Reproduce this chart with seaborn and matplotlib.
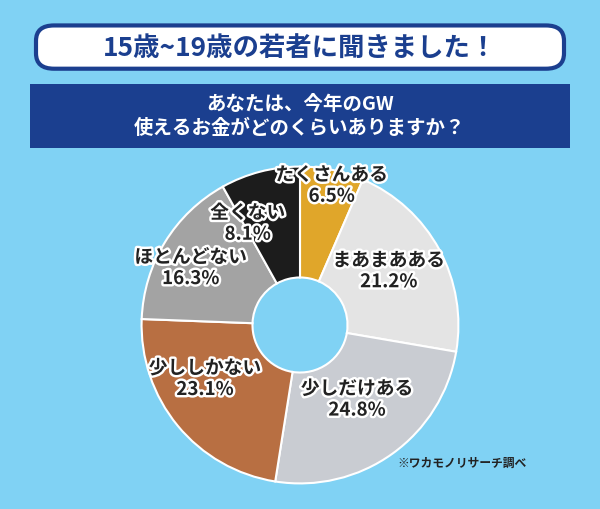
import matplotlib
matplotlib.use("Agg")
import matplotlib.pyplot as plt
import seaborn as sns
import matplotlib.patheffects as pe
from matplotlib.patches import FancyBboxPatch, Rectangle

sns.set_theme(style="white")
plt.rcParams['font.family'] = ['Noto Sans CJK JP', 'DejaVu Sans']

categories = ["たくさんある", "まあまあある", "少しだけある", "少ししかない", "ほとんどない", "全くない"]
values = [6.5, 21.2, 24.8, 23.1, 16.3, 8.1]
colors = ["#e0a62a", "#e4e4e4", "#c9ccd2", "#b86f42", "#a3a3a3", "#1c1c1c"]
title = "15歳~19歳の若者に聞きました！"
question = "あなたは、今年のGW\n使えるお金がどのくらいありますか？"
source = "※ワカモノリサーチ調べ"
label_pos = [(0.2, 0.88), (0.56, 0.34), (0.36, -0.47), (-0.6, -0.34), (-0.69, 0.36), (-0.33, 0.64)]

bg = "#80d2f4"
fig = plt.figure(figsize=(6, 5.09), dpi=100)
fig.patch.set_facecolor(bg)

fig.patches.append(FancyBboxPatch((0.06, 0.865), 0.88, 0.085, boxstyle="round,pad=0,rounding_size=0.03",
                                  transform=fig.transFigure, facecolor="white", edgecolor="#1b3f8f", linewidth=3))
fig.text(0.5, 0.905, title, ha="center", va="center", fontsize=19, fontweight="bold", color="#1b3f8f")
fig.patches.append(Rectangle((0.05, 0.71), 0.9, 0.125, transform=fig.transFigure,
                             facecolor="#1b3f8f", edgecolor="none"))
fig.text(0.5, 0.772, question, ha="center", va="center", fontsize=14, fontweight="bold",
         color="white", linespacing=1.35)

ax = fig.add_axes([140/600, 24/509, 320/600, 320/509])
ax.set_facecolor(bg)
ax.pie(values, colors=colors, startangle=90, counterclock=False,
       wedgeprops=dict(width=0.7, edgecolor="white", linewidth=1.5))
ax.set_xlim(-1.01, 1.01)
ax.set_ylim(-1.01, 1.01)
ax.set_aspect("equal")
ax.axis("off")

for (c, v), (x, y) in zip(zip(categories, values), label_pos):
    ax.text(x, y, f"{c}\n{v}%", ha="center", va="center", fontsize=13.5, fontweight="bold",
            color="#222222", linespacing=1.15,
            path_effects=[pe.withStroke(linewidth=3.5, foreground="white")])

fig.text(0.77, 0.09, source, ha="center", va="center", fontsize=8.5, fontweight="bold", color="#222222")
fig.savefig("out.png", dpi=100, facecolor=bg)
